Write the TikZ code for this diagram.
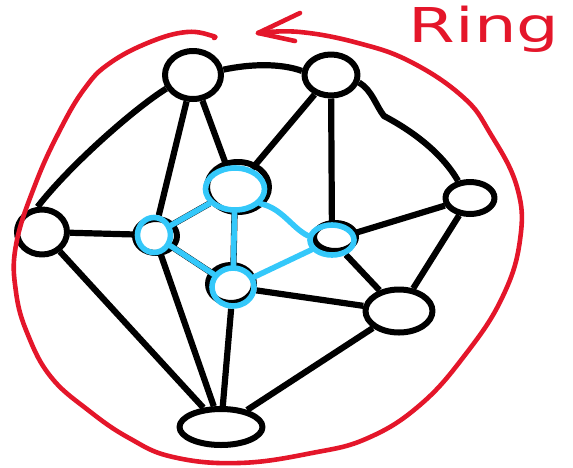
\documentclass[tikz,border=0pt]{standalone}
\usepackage{fontspec}
\newfontfamily\ringfont{DejaVu Sans}
\usetikzlibrary{shapes.geometric,backgrounds}
\definecolor{ringred}{RGB}{228,22,42}
\definecolor{coreblue}{RGB}{52,200,250}

\begin{document}
\begin{tikzpicture}[x=0.5pt,y=-0.5pt,line cap=round,line join=round,
  hub/.style={ellipse,draw,line width=3pt,inner sep=0pt},
  core/.style={ellipse,draw=coreblue,line width=2.8pt,inner sep=0pt},
  link/.style={line width=3.1pt},
  corelink/.style={draw=coreblue,line width=2.8pt},
  ring/.style={draw=ringred,line width=2.3pt},
  ringlabel/.style={text=ringred,inner sep=0pt,
    font=\ringfont\fontsize{24pt}{24pt}\selectfont}]
\useasboundingbox (0,0) rectangle (573,467);

% black ink under the blue core
\draw[line width=3pt] (238,187) ellipse [x radius=31,y radius=25];
\draw[line width=3pt] (156,236) ellipse [x radius=21,y radius=17];
\draw[line width=3pt] (335,237) ellipse [x radius=21,y radius=14];
\draw[line width=3pt] (231,284) ellipse [x radius=23,y radius=19];

% outer nodes
\node[hub,minimum width=28pt,minimum height=24pt] (A) at (193,75) {};
\node[hub,minimum width=26.5pt,minimum height=20.5pt] (B) at (331,75) {};
\node[hub,minimum width=24.5pt,minimum height=16pt] (C) at (470,198) {};
\node[hub,minimum width=33.5pt,minimum height=21.5pt] (D) at (399,311) {};
\node[hub,minimum width=41.5pt,minimum height=18pt] (E) at (221,427) {};
\node[hub,minimum width=25pt,minimum height=22.5pt] (F) at (42,232) {};

% core nodes
\node[core,minimum width=29.5pt,minimum height=21pt] (G) at (235,189) {};
\node[core,minimum width=16.5pt,minimum height=17.5pt] (H) at (154,235) {};
\node[core,minimum width=22pt,minimum height=15pt] (I) at (332,240) {};
\node[core,minimum width=21pt,minimum height=19pt] (J) at (233,287) {};

\coordinate (bc) at (384,116);

\begin{scope}[on background layer]
\draw[link] (A.10) .. controls (250,64) and (280,63) .. (B.172);
\draw[link] (A.207) .. controls (135,108) and (70,165) .. (F.100);
\draw[link] (A) -- (H);
\draw[link] (A) -- (G);
\draw[link] (B) -- (G);
\draw[link] (B) -- (I);
\draw[link] (B.-15) .. controls (372,90) and (376,106) .. (bc)
  .. controls (420,135) and (445,158) .. (C.125);
\draw[link] (C) -- (I);
\draw[link] (C) -- (D);
\draw[link] (I) -- (D);
\draw[link] (J) -- (D);
\draw[link] (D) -- (E);
\draw[link] (J) -- (E);
\draw[link] (H) -- (E);
\draw[link] (F) -- (E);
\draw[link] (F) -- (H);
\draw[link] (G) -- (H);
\draw[link] (G) -- (J);
\draw[link] (H) -- (J);
\end{scope}

% blue core links
\draw[corelink] (G) -- (H);
\draw[corelink] (G) -- (J);
\draw[corelink] (H) -- (J);
\draw[corelink] (I) -- (J);
\draw[corelink] (G.-30) .. controls (282,208) and (292,228) .. (I.170);

% the ring
\draw[ring] plot[smooth,tension=0.7] coordinates {
  (214,38) (213,36) (187,32) (150,42) (110,63) (85,88) (60,130) (35,185)
  (16,245) (16,292) (28,335) (51,377) (88,410) (129,438) (173,457)
  (239,463) (312,453) (368,438) (420,405) (465,355) (502,298) (520,240)
  (517,187) (490,133) (463,97) (411,62) (358,43) (300,32) (258,33)};
\draw[ring] (300,13) -- (258,33) -- (295,41);
\node[ringlabel,anchor=base] (ringtext) at (484,42) {\scalebox{1.4}[1]{Ring}};
\end{tikzpicture}
\end{document}
